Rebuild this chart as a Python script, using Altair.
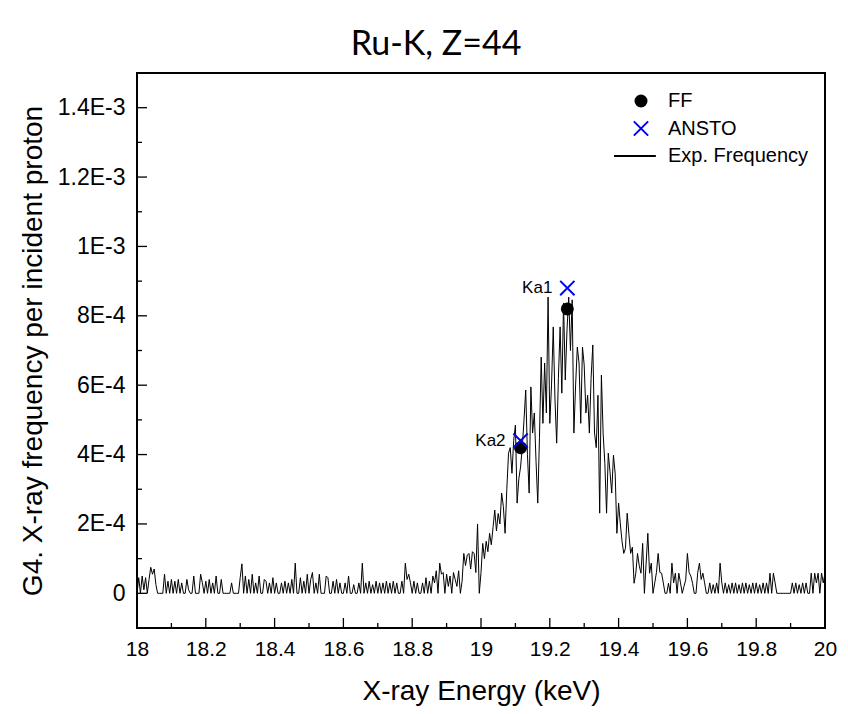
import altair as alt
import numpy as np
import pandas as pd

# ---------------- data ----------------
# energy grid (keV), 0.005 keV channels from 18 to 20
energy = np.round(np.linspace(18.0, 20.0, 401), 3)

# experimental frequency, in units of 1e-6 per incident proton
freq_1e6 = [
    0,45,0,50,10,45,0,40,75,55,70,25,0,0,0,0,55,0,35,0,
    40,0,35,0,40,0,30,0,0,40,10,0,0,50,0,0,0,55,30,0,
    35,0,40,0,30,0,50,0,0,40,0,0,0,0,0,30,0,0,0,0,
    45,85,0,50,0,40,0,55,0,30,0,50,0,0,40,35,0,30,0,45,
    0,30,0,0,30,0,35,0,30,0,40,0,87,0,0,45,0,35,0,55,
    0,40,60,0,30,0,55,0,0,0,50,45,0,0,35,0,40,0,30,0,
    0,30,0,50,0,0,25,0,0,30,0,87,0,30,0,35,0,25,0,35,
    0,30,0,30,0,35,0,30,0,35,0,30,0,0,35,0,87,40,55,30,
    0,35,0,30,0,0,30,0,45,0,35,0,50,30,65,0,87,55,60,0,
    55,20,50,0,60,40,20,65,0,35,115,80,110,115,70,120,115,60,200,0,
    60,144,100,150,120,173,140,190,240,180,230,200,289,250,173,300,404,420,346,440,
    485,260,330,364,420,500,586,400,289,595,462,520,380,260,450,681,490,664,520,854,
    490,600,768,560,433,620,768,577,837,615,760,854,700,846,462,600,710,664,490,710,
    658,520,571,462,620,716,462,420,571,231,629,462,375,231,404,350,289,398,346,173,
    260,200,150,115,130,231,170,115,133,29,58,115,80,58,144,0,87,173,58,87,
    0,30,60,115,60,58,30,0,0,29,0,87,30,58,0,58,30,0,20,38,
    115,60,50,29,0,0,60,87,40,58,30,0,0,30,0,25,0,30,0,87,
    30,0,30,0,25,0,30,0,30,0,25,0,30,0,30,0,25,0,30,0,
    30,0,25,0,30,0,30,0,58,0,58,30,0,0,0,0,0,0,0,0,
    0,30,0,30,0,25,0,30,0,30,0,0,58,0,58,30,58,0,58,30,58,
]
assert len(freq_1e6) == len(energy), len(freq_1e6)

# calculated lines
line_names = ["Ka2", "Ka1"]
ff_energy = [19.115, 19.251]
ff_value = [4.2e-4, 8.2e-4]
ansto_energy = [19.115, 19.251]
ansto_value = [4.4e-4, 8.8e-4]

series_names = ["FF", "ANSTO", "Exp. Frequency"]
series_colors = ["#000000", "#0000ff", "#000000"]
series_widths = [2, 2, 1]
series_shapes = ["circle",
                 "M-1.3,-1.3L1.3,1.3M-1.3,1.3L1.3,-1.3",
                 "M-4.9,0L2.7,0"]

x_major = [18.0, 18.2, 18.4, 18.6, 18.8, 19.0, 19.2, 19.4, 19.6, 19.8, 20.0]
x_minor = [18.1, 18.3, 18.5, 18.7, 18.9, 19.1, 19.3, 19.5, 19.7, 19.9]
y_major = [0, 2e-4, 4e-4, 6e-4, 8e-4, 1e-3, 1.2e-3, 1.4e-3]
y_major_labels = ["0", "2E-4", "4E-4", "6E-4", "8E-4", "1E-3", "1.2E-3", "1.4E-3"]
y_minor = [1e-4, 3e-4, 5e-4, 7e-4, 9e-4, 1.1e-3, 1.3e-3]

# ---------------- tables ----------------
spec_df = pd.DataFrame({"E": energy, "F": np.array(freq_1e6) * 1e-6})
pts_df = pd.DataFrame({
    "E": ff_energy + ansto_energy,
    "F": ff_value + ansto_value,
    "series": ["FF"] * len(ff_energy) + ["ANSTO"] * len(ansto_energy),
})
lab_df = pd.DataFrame({"E": ansto_energy, "F": ansto_value, "label": line_names})

W, H = 688, 555
FONT = "Liberation Sans"

xscale = alt.Scale(domain=[18, 20], nice=False, zero=False)
yscale = alt.Scale(domain=[-1e-4, 1.5e-3], nice=False, zero=False)

label_expr = "".join(
    f"abs(datum.value - ({v})) < 1e-9 ? '{l}' : " for v, l in zip(y_major, y_major_labels)
) + "''"

x_enc = alt.X("E:Q", scale=xscale, title="X-ray Energy (keV)",
              axis=alt.Axis(values=x_major, format=".1~f", ticks=False, domain=False,
                            grid=False, labelFontSize=21, labelPadding=10, labelFlush=False,
                            titleFontSize=28, titlePadding=18, labelFont=FONT,
                            titleFont=FONT, titleFontWeight="normal",
                            labelColor="black", titleColor="black"))
y_enc = alt.Y("F:Q", scale=yscale, title="G4. X-ray frequency per incident proton",
              axis=alt.Axis(values=y_major, labelExpr=label_expr, ticks=False,
                            domain=False, grid=False, labelFontSize=23, labelFlush=False,
                            labelPadding=12, titleFontSize=28, titlePadding=10,
                            labelFont=FONT, titleFont=FONT, titleFontWeight="normal",
                            labelColor="black", titleColor="black"))

spectrum = alt.Chart(spec_df).mark_line(color="black", strokeWidth=1).encode(
    x=x_enc, y=y_enc)

legend = alt.Legend(
    title=None, orient="none", legendX=494, legendY=18, padding=0,
    labelFontSize=20, labelFont=FONT, labelColor="black", labelOffset=17,
    symbolSize=121, rowPadding=5.5, symbolOpacity=1,
)

points = alt.Chart(pts_df).mark_point(filled=True, size=121, opacity=1).encode(
    x=alt.X("E:Q", scale=xscale),
    y=alt.Y("F:Q", scale=yscale),
    color=alt.Color("series:N", scale=alt.Scale(domain=series_names, range=series_colors),
                    legend=legend),
    shape=alt.Shape("series:N", scale=alt.Scale(domain=series_names, range=series_shapes),
                    legend=legend),
    stroke=alt.Stroke("series:N", scale=alt.Scale(domain=series_names, range=series_colors),
                      legend=legend),
    strokeWidth=alt.StrokeWidth("series:N",
                                scale=alt.Scale(domain=series_names, range=series_widths),
                                legend=legend),
)

labels = alt.Chart(lab_df).mark_text(align="right", baseline="middle", dx=-15,
                                      fontSize=17, font=FONT, color="black").encode(
    x=alt.X("E:Q", scale=xscale), y=alt.Y("F:Q", scale=yscale), text="label:N")

# inward ticks
def yticks(vals, length):
    return alt.Chart(pd.DataFrame({"v": vals})).mark_rule(color="black", strokeWidth=1.3).encode(
        y=alt.Y("v:Q", scale=yscale), x=alt.value(0), x2=alt.value(length))

def xticks(vals, length):
    return alt.Chart(pd.DataFrame({"v": vals})).mark_rule(color="black", strokeWidth=1.3).encode(
        x=alt.X("v:Q", scale=xscale), y=alt.value(H), y2=alt.value(H - length))

chart = alt.layer(
    yticks(y_major, 10), yticks(y_minor, 5), xticks(x_major, 10), xticks(x_minor, 5),
    spectrum, points, labels,
).properties(
    width=W, height=H,
    background="white",
    title=alt.TitleParams("Ru-K, Z=44", fontSize=34, font="Lato", fontWeight="normal",
                          color="black", dx=-45, offset=11, anchor="middle"),
    autosize=alt.AutoSizeParams(type="none"),
    padding={"left": 137, "top": 73, "right": 23, "bottom": 86},
).configure_view(stroke="black", strokeWidth=2)

chart.save("out.html", embed_options={"renderer": "svg", "actions": False})
